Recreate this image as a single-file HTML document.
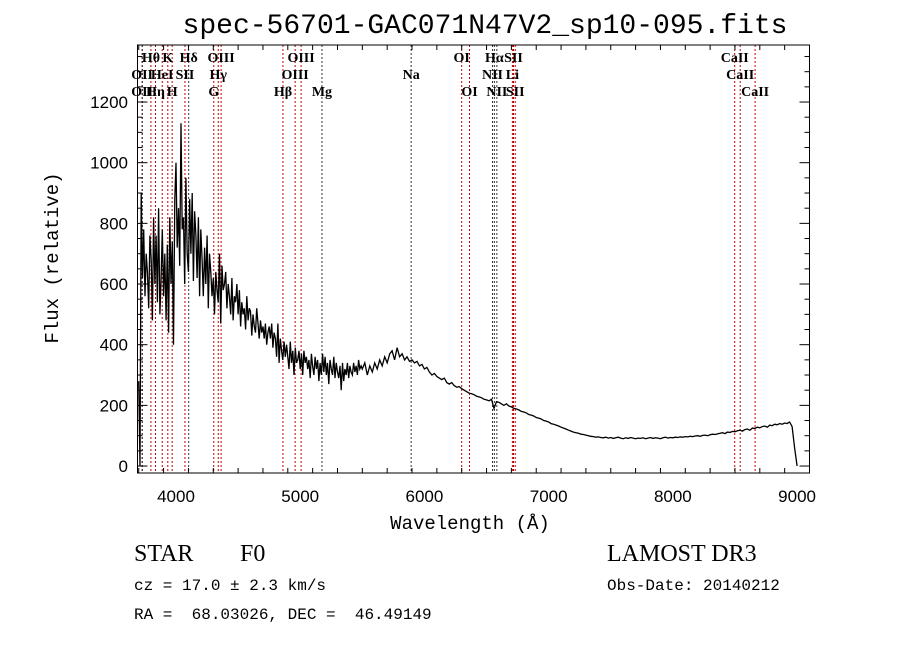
<!DOCTYPE html>
<html><head><meta charset="utf-8"><style>
body{margin:0;background:#fff;width:900px;height:649px;overflow:hidden}
svg text{fill:#000;white-space:pre}
</style></head><body>
<svg id="chart" width="900" height="649" xmlns="http://www.w3.org/2000/svg">
<rect width="900" height="649" fill="#fff"/>
<text x="485" y="33" font-family="Liberation Mono, monospace" font-size="28" text-anchor="middle">spec-56701-GAC071N47V2_sp10-095.fits</text>
<g id="lines"></g>
<g id="labels"></g>
<path id="spec" fill="none" stroke="#000" stroke-width="1.3"/>
<g id="axes"></g>
<rect x="137.5" y="45" width="672" height="428" fill="none" stroke="#000" stroke-width="1"/>
<text x="470" y="529" font-family="Liberation Mono, monospace" font-size="19" text-anchor="middle">Wavelength (Å)</text>
<text transform="translate(58,258) rotate(-90)" font-family="Liberation Mono, monospace" font-size="19" text-anchor="middle">Flux (relative)</text>
<text x="134" y="561" font-family="Liberation Serif, serif" font-size="24">STAR</text>
<text x="240" y="561" font-family="Liberation Serif, serif" font-size="24">F0</text>
<text x="607" y="561" font-family="Liberation Serif, serif" font-size="24">LAMOST DR3</text>
<text x="134" y="590" font-family="Liberation Mono, monospace" font-size="16">cz = 17.0 ± 2.3 km/s</text>
<text x="607" y="590" font-family="Liberation Mono, monospace" font-size="16">Obs-Date: 20140212</text>
<text x="134" y="619" font-family="Liberation Mono, monospace" font-size="16">RA =  68.03026, DEC =  46.49149</text>
</svg>
<script>
const xTicks=[4000,5000,6000,7000,8000,9000];
const yTicks=[0,200,400,600,800,1000,1200];
const lineWaves=[3727,3729,3798,3835,3889,3934,3969,4072,4102,4304,4340,4363,4861,4959,5007,5175,5893,6300,6363,6548,6563,6583,6708,6717,6731,8498,8542,8662];
const lineColors=['r','k','r','r','r','r','r','r','k','r','r','r','r','r','r','k','k','r','r','k','k','k','r','r','r','r','r','r'];
const labelNames=['Hθ','K','Hδ','OIII','OIII','OI','Hα','SII','CaII','OII','HeI','SII','Hγ','OIII','Na','NII','Li','CaII','OII','Hη','H','G','Hβ','Mg','OI','NII','SII','CaII'];
const labelWaves=[3798,3934,4102,4363,5007,6300,6563,6717,8498,3727,3889,4072,4340,4959,5893,6548,6708,8542,3727,3835,3969,4304,4861,5175,6363,6583,6731,8662];
const labelRows=[0,0,0,0,0,0,0,0,0,1,1,1,1,1,1,1,1,1,2,2,2,2,2,2,2,2,2,2];
const blueStart=3700, blueStep=10;
const fluxBlue=[280,0,900,620,780,560,700,640,520,760,
680,480,820,600,760,540,850,500,620,780,
560,700,480,730,440,820,600,740,400,880,
1000,720,850,660,1130,780,820,600,950,700,
640,880,700,900,610,840,760,620,820,560,
780,680,560,720,600,760,520,700,640,560,
620,500,640,580,540,700,470,660,580,600,
640,520,600,560,500,620,480,560,540,600,
500,580,460,540,500,520,450,560,480,520,
510,430,500,460,440,520,470,420,480,440,
460,420,470,400,440,460,420,470,390,440,
420,360,470,340,420,380,350,410,360,400,
360,320,410,340,380,300,390,340,350,380,
320,370,300,380,340,360,320,350,290,370,
330,300,360,320,350,280,340,300,370,310,
360,300,340,270,350,320,300,360,290,340,
310,290,330,250,340,280,320,300,340,290,
330,310,300,340,310,330,300,350,320,330];
const redStart=5500, redStep=20;
const fluxRed=[320,340,300,330,310,340,320,350,330,360,
340,370,380,350,390,360,370,350,360,345,350,340,345,330,335,320,325,310,300,305,
295,290,285,290,275,270,275,265,260,262,255,250,245,240,238,235,230,228,225,220,
218,215,220,190,212,210,205,200,205,198,195,190,188,185,180,178,175,170,168,165,
160,158,155,150,148,145,140,138,135,132,128,125,122,118,115,112,110,108,105,104,
102,100,98,97,95,96,94,93,95,92,94,91,93,95,92,90,93,91,94,92,
90,92,91,93,90,92,94,91,93,92,90,93,95,92,94,93,95,94,96,95,
97,96,98,97,99,100,98,101,102,100,103,105,104,106,108,110,107,112,111,114,
113,116,118,115,120,122,118,125,124,128,126,130,132,128,135,133,138,136,140,138,
142,140,145,130,60,0];
const X0=3690,X1=9100,Y0=-23,Y1=1388,PL=137.5,PR=809.5,PT=45,PB=473;
const xs=w=>PL+(w-X0)/(X1-X0)*(PR-PL);
const ys=v=>PB-(v-Y0)/(Y1-Y0)*(PB-PT);
const NS='http://www.w3.org/2000/svg';
function mk(tag,attrs,parent){const e=document.createElementNS(NS,tag);for(const k in attrs)e.setAttribute(k,attrs[k]);parent.appendChild(e);return e;}
const L=document.getElementById('lines');
lineWaves.forEach((w,i)=>{const e=mk('line',{x1:xs(w),x2:xs(w),y1:PT,y2:PB,stroke:lineColors[i]=='r'?'#c00000':'#333','stroke-width':1,'stroke-dasharray':'2,2'},L);

});
const LB=document.getElementById('labels');
labelNames.forEach((n,i)=>{const t=mk('text',{x:xs(labelWaves[i]),y:62+labelRows[i]*17,'font-family':'Liberation Serif, serif','font-size':14,'font-weight':'bold','text-anchor':'middle'},LB);t.textContent=n;

});
let d='';
fluxBlue.forEach((v,i)=>{d+=(i?'L':'M')+xs(blueStart+i*blueStep).toFixed(1)+','+ys(v).toFixed(1);});
fluxRed.forEach((v,i)=>{d+='L'+xs(redStart+i*redStep).toFixed(1)+','+ys(v).toFixed(1);});
document.getElementById('spec').setAttribute('d',d);
const A=document.getElementById('axes');
for(let w=3700;w<=9100;w+=200){const big=w%1000==0;mk('line',{x1:xs(w),x2:xs(w),y1:PB,y2:PB-(big?10:5),stroke:'#000'},A);mk('line',{x1:xs(w),x2:xs(w),y1:PT,y2:PT+(big?10:5),stroke:'#000'},A);}
for(let v=0;v<=1380;v+=50){const big=v%200==0;mk('line',{x1:PL,x2:PL+(big?10:5),y1:ys(v),y2:ys(v),stroke:'#000'},A);mk('line',{x1:PR,x2:PR-(big?10:5),y1:ys(v),y2:ys(v),stroke:'#000'},A);}
xTicks.forEach(w=>{const t=mk('text',{x:xs(w),y:502,'font-family':'Liberation Sans, sans-serif','font-size':17,'text-anchor':'middle'},A);t.textContent=w;

});
yTicks.forEach(v=>{const t=mk('text',{x:128,y:ys(v)+6,'font-family':'Liberation Sans, sans-serif','font-size':17,'text-anchor':'end'},A);t.textContent=v;

});
</script>
</body></html>
